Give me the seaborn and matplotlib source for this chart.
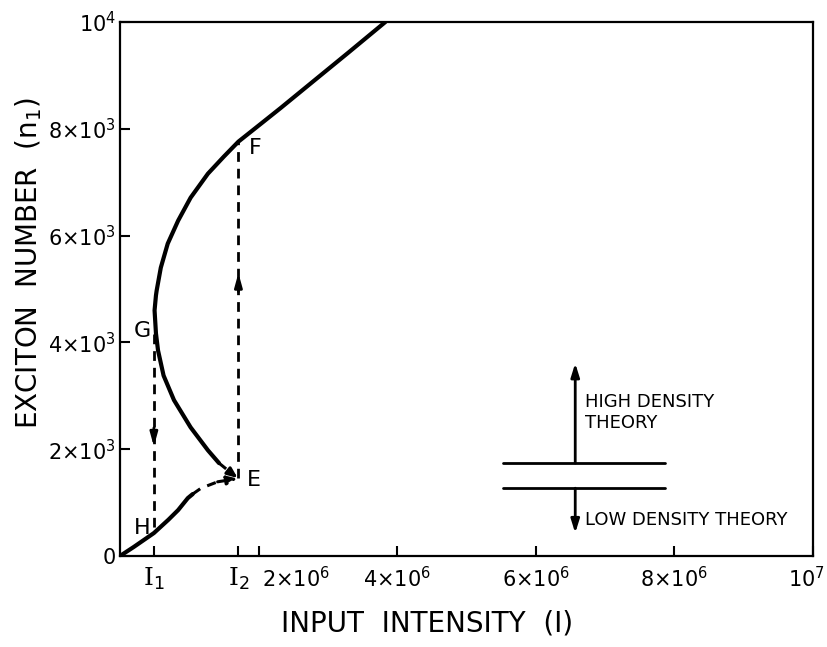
import matplotlib
matplotlib.use("Agg")
import matplotlib.pyplot as plt
import matplotlib.transforms as mtransforms
import seaborn as sns
import pandas as pd
import numpy as np

# ---------------- data ----------------
# upper (high density) branch, I in units of 1e6
upper_I = [1.43, 1.27, 1.02, 0.78, 0.63, 0.55, 0.52, 0.50, 0.52, 0.53, 0.59, 0.69, 0.84, 1.02, 1.27, 1.50, 1.71, 2.03, 2.32, 2.80, 3.29, 3.83]
upper_n = [1740, 1980, 2410, 2920, 3380, 3850, 4170, 4600, 4880, 4970, 5400, 5850, 6280, 6710, 7160, 7480, 7760, 8090, 8390, 8900, 9420, 10000]
# lower (low density) branch
lower_I = [0.0, 0.20, 0.49, 0.70, 0.84, 0.98, 1.05]
lower_n = [0, 170, 430, 680, 860, 1085, 1160]
lower_dash_I = [1.05, 1.17, 1.41, 1.70]
lower_dash_n = [1160, 1270, 1390, 1450]
upper_dash_I = [1.43, 1.62, 1.70]
upper_dash_n = [1740, 1540, 1460]
I1, I2 = 0.49, 1.71                # x 1e6
jump_down_n = [4150, 480]           # G -> H
jump_up_n = [1460, 7760]            # E -> F
down_arrow_tip = 2050
up_arrow_tip = 5300

xticks = [2e6, 4e6, 6e6, 8e6, 1e7]
xticklabels = [r"$\mathrm{2×10}^{6}$", r"$\mathrm{4×10}^{6}$", r"$\mathrm{6×10}^{6}$", r"$\mathrm{8×10}^{6}$", r"$\mathrm{10}^{7}$"]
yticks = [0, 2000, 4000, 6000, 8000, 10000]
yticklabels = ["0", r"$\mathrm{2×10}^{3}$", r"$\mathrm{4×10}^{3}$", r"$\mathrm{6×10}^{3}$", r"$\mathrm{8×10}^{3}$", r"$\mathrm{10}^{4}$"]

# legend-like inset (data coordinates)
inset_x = [5.53e6, 7.87e6]
inset_line_n = [1740, 1270]
inset_arrow_x = 6.57e6
inset_up_tip = 3610
inset_down_tip = 430

sns.set_style("ticks")
plt.rcParams['font.family'] = ['DejaVu Sans']
plt.rcParams['mathtext.fontset'] = 'custom'
plt.rcParams['mathtext.rm'] = 'DejaVu Sans'
plt.rcParams['mathtext.it'] = 'DejaVu Sans:italic'
plt.rcParams['mathtext.bf'] = 'DejaVu Sans:bold'
plt.rcParams['mathtext.sf'] = 'DejaVu Serif'
for k in ['text.color', 'axes.labelcolor', 'xtick.color', 'ytick.color', 'axes.edgecolor']:
    plt.rcParams[k] = 'black'

fig = plt.figure(figsize=(8.27, 6.47), dpi=100)
ax = fig.add_axes([0.145, 0.1406, 0.838, 0.8254])

def df(xs, ns, scale=1e6):
    return pd.DataFrame({"I": np.array(xs, dtype=float) * scale, "n": ns})

lw = 3.0
DASH = (0, (3, 2.5))
kw = dict(x="I", y="n", sort=False, color="black", estimator=None, ax=ax)
sns.lineplot(data=df(upper_I, upper_n), lw=lw, **kw)
sns.lineplot(data=df(lower_I, lower_n), lw=lw, **kw)
sns.lineplot(data=df(lower_dash_I[:-1], lower_dash_n[:-1]), lw=2.2, ls=DASH, **kw)
sns.lineplot(data=df(upper_dash_I[:-1], upper_dash_n[:-1]), lw=2.2, ls=DASH, **kw)
for line in ax.lines:
    line.set_solid_capstyle("round")
    line.set_solid_joinstyle("round")
# arrowheads into E
ax.annotate("", xy=(lower_dash_I[-1] * 1e6, lower_dash_n[-1]), xytext=(lower_dash_I[-2] * 1e6, lower_dash_n[-2]),
            arrowprops=dict(arrowstyle="-|>,head_length=0.6,head_width=0.25", color="black", lw=2.2, ls=DASH,
                            shrinkA=0, shrinkB=0))
ax.annotate("", xy=(upper_dash_I[-1] * 1e6, upper_dash_n[-1]), xytext=(upper_dash_I[-2] * 1e6, upper_dash_n[-2]),
            arrowprops=dict(arrowstyle="-|>,head_length=0.6,head_width=0.25", color="black", lw=2.2,
                            shrinkA=0, shrinkB=0))

# vertical jumps
sns.lineplot(data=df([I1, I1], jump_down_n), lw=2.0, ls=(0, (3.5, 2.5)), **kw)
sns.lineplot(data=df([I2, I2], jump_up_n), lw=2.0, ls=(0, (3.5, 2.5)), **kw)
ax.annotate("", xy=(I1 * 1e6, down_arrow_tip), xytext=(I1 * 1e6, down_arrow_tip + 350),
            arrowprops=dict(arrowstyle="-|>,head_length=0.8,head_width=0.22", color="black", lw=2.0, shrinkA=0, shrinkB=0))
ax.annotate("", xy=(I2 * 1e6, up_arrow_tip), xytext=(I2 * 1e6, up_arrow_tip - 350),
            arrowprops=dict(arrowstyle="-|>,head_length=0.8,head_width=0.22", color="black", lw=2.0, shrinkA=0, shrinkB=0))

# point labels
lab = dict(fontsize=16, color="black", ha="center", va="center")
ax.text(0.32e6, 4220, "G", **lab)
ax.text(0.32e6, 520, "H", **lab)
ax.text(1.93e6, 1420, "E", **lab)
ax.text(1.96e6, 7640, "F", **lab)

# inset
for yv in inset_line_n:
    ax.plot(inset_x, [yv, yv], color="black", lw=2.0)
ax.annotate("", xy=(inset_arrow_x, inset_up_tip), xytext=(inset_arrow_x, inset_line_n[0]),
            arrowprops=dict(arrowstyle="-|>,head_length=0.8,head_width=0.25", color="black", lw=2.0, shrinkA=0, shrinkB=0))
ax.annotate("", xy=(inset_arrow_x, inset_down_tip), xytext=(inset_arrow_x, inset_line_n[1]),
            arrowprops=dict(arrowstyle="-|>,head_length=0.8,head_width=0.25", color="black", lw=2.0, shrinkA=0, shrinkB=0))
ax.text(6.71e6, 2690, "HIGH DENSITY\nTHEORY", ha="left", va="center", fontsize=13, linespacing=1.2)
ax.text(6.71e6, 670, "LOW DENSITY THEORY", ha="left", va="center", fontsize=13)

ax.set_xlim(0, 1e7)
ax.set_ylim(0, 10000)
ax.set_xticks([I1 * 1e6, I2 * 1e6] + xticks)
ax.set_xticklabels([r"$\mathsf{I}_{\mathrm{1}}$", r"$\mathsf{I}_{\mathrm{2}}$"] + xticklabels, fontsize=15)
ax.set_yticks(yticks)
ax.set_yticklabels(yticklabels, fontsize=15)
ax.tick_params(direction="in", length=7, width=1.5)
ax.tick_params(axis="x", pad=7)
ax.tick_params(axis="y", pad=3)
xt = ax.get_xticklabels()
xt[0].set_fontsize(18)
xt[1].set_fontsize(18)
xt[2].set_horizontalalignment("left")
xt[-1].set_horizontalalignment("right")
xt[2].set_transform(xt[2].get_transform() + mtransforms.ScaledTranslation(0.03, 0, fig.dpi_scale_trans))
xt[-1].set_transform(xt[-1].get_transform() + mtransforms.ScaledTranslation(0.12, 0, fig.dpi_scale_trans))
for s in ax.spines.values():
    s.set_linewidth(1.6)
    s.set_visible(True)
ax.set_xlabel("INPUT  INTENSITY  (I)", fontsize=20)
ax.set_ylabel(r"EXCITON  NUMBER  $(\mathrm{n}_{\mathrm{1}})$", fontsize=20)
ax.xaxis.set_label_coords(0.443, -0.10)
ax.yaxis.set_label_coords(-0.11, 0.548)

fig.savefig("out.png", dpi=100)
